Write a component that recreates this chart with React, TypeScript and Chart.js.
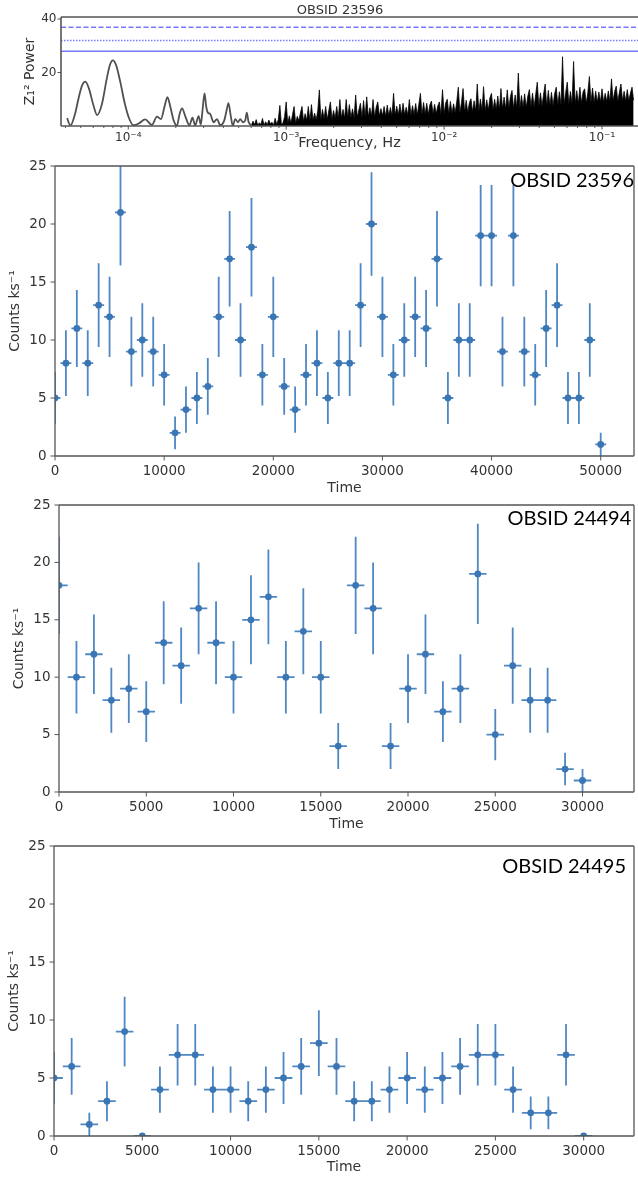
import React, { useEffect, useRef } from "react";
import { Chart, registerables } from "chart.js";
Chart.register(...registerables);

// ---------------- data: Z^2_1 periodogram (OBSID 23596) ----------------
const LOWF_FREQ = [4.1e-5, 4.3e-5, 4.6e-5, 4.85e-5, 5.1e-5, 5.35e-5, 5.65e-5, 6.0e-5, 6.35e-5, 6.8e-5,
  7.3e-5, 7.65e-5, 8.0e-5, 8.4e-5, 8.9e-5, 9.5e-5, 1.01e-4, 1.08e-4, 1.17e-4, 1.28e-4,
  1.41e-4, 1.52e-4, 1.61e-4, 1.7e-4, 1.77e-4, 1.85e-4, 1.94e-4, 2.03e-4, 2.12e-4, 2.19e-4,
  2.3e-4, 2.44e-4, 2.55e-4, 2.65e-4, 2.79e-4, 2.88e-4, 2.96e-4, 3.04e-4, 3.12e-4, 3.19e-4,
  3.3e-4, 3.47e-4, 3.65e-4, 3.82e-4, 4.05e-4, 4.2e-4, 4.31e-4, 4.45e-4, 4.59e-4, 4.76e-4,
  4.95e-4, 5.12e-4, 5.32e-4, 5.5e-4, 5.63e-4, 5.78e-4, 6.03e-4];
const LOWF_POWER = [2.9, 0.2, 4.5, 10.5, 15.2, 16.6, 13.8, 8.0, 4.1, 8.0,
  17.5, 22.8, 24.5, 22.5, 16.5, 8.5, 3.0, 0.3, 1.0, 2.5,
  0.4, 3.5, 2.6, 7.5, 10.8, 7.0, 2.0, 0.1, 4.8, 6.6,
  3.5, 0.3, 3.1, 0.3, 3.7, 0.6, 6.5, 12.2, 7.0, 5.0,
  4.5, 1.4, 2.6, 0.3, 2.0, 6.0, 8.5, 4.0, 0.1, 2.6,
  1.4, 2.6, 1.4, 2.0, 5.0, 1.5, 0.3];

const DENSE_LOG_FREQ = [
  -3.22, -3.21, -3.20, -3.19, -3.18, -3.17, -3.16, -3.15, -3.14, -3.13,
  -3.12, -3.11, -3.10, -3.09, -3.08, -3.07, -3.06, -3.05, -3.04, -3.03,
  -3.02, -3.01, -3.00, -2.99, -2.98, -2.97, -2.96, -2.95, -2.94, -2.93,
  -2.92, -2.91, -2.90, -2.89, -2.88, -2.87, -2.86, -2.85, -2.84, -2.83,
  -2.82, -2.81, -2.80, -2.79, -2.78, -2.77, -2.76, -2.75, -2.74, -2.73,
  -2.72, -2.71, -2.70, -2.69, -2.68, -2.67, -2.66, -2.65, -2.64, -2.63,
  -2.62, -2.61, -2.60, -2.59, -2.58, -2.57, -2.56, -2.55, -2.54, -2.53,
  -2.52, -2.51, -2.50, -2.49, -2.48, -2.47, -2.46, -2.45, -2.44, -2.43,
  -2.42, -2.41, -2.40, -2.39, -2.38, -2.37, -2.36, -2.35, -2.34, -2.33,
  -2.32, -2.31, -2.30, -2.29, -2.28, -2.27, -2.26, -2.25, -2.24, -2.23,
  -2.22, -2.21, -2.20, -2.19, -2.18, -2.17, -2.16, -2.15, -2.14, -2.13,
  -2.12, -2.11, -2.10, -2.09, -2.08, -2.07, -2.06, -2.05, -2.04, -2.03,
  -2.02, -2.01, -2.00, -1.99, -1.98, -1.97, -1.96, -1.95, -1.94, -1.93,
  -1.92, -1.91, -1.90, -1.89, -1.88, -1.87, -1.86, -1.85, -1.84, -1.83,
  -1.82, -1.81, -1.80, -1.79, -1.78, -1.77, -1.76, -1.75, -1.74, -1.73,
  -1.72, -1.71, -1.70, -1.69, -1.68, -1.67, -1.66, -1.65, -1.64, -1.63,
  -1.62, -1.61, -1.60, -1.59, -1.58, -1.57, -1.56, -1.55, -1.54, -1.53,
  -1.52, -1.51, -1.50, -1.49, -1.48, -1.47, -1.46, -1.45, -1.44, -1.43,
  -1.42, -1.41, -1.40, -1.39, -1.38, -1.37, -1.36, -1.35, -1.34, -1.33,
  -1.32, -1.31, -1.30, -1.29, -1.28, -1.27, -1.26, -1.25, -1.24, -1.23,
  -1.22, -1.21, -1.20, -1.19, -1.18, -1.17, -1.16, -1.15, -1.14, -1.13,
  -1.12, -1.11, -1.10, -1.09, -1.08, -1.07, -1.06, -1.05, -1.04, -1.03,
  -1.02, -1.01, -1.00, -0.99, -0.98, -0.97, -0.96, -0.95, -0.94, -0.93,
  -0.92, -0.91, -0.90, -0.89, -0.88, -0.87, -0.86, -0.85, -0.84, -0.83,
  -0.82, -0.81, -0.80];
const DENSE_POWER = [
  0.3, 1.8, 0.5, 2.4, 0.2, 1.2, 0.6, 2.8, 0.3, 1.6,
  0.4, 2.2, 0.8, 1.4, 0.3, 2.9, 0.6, 2.4, 7.7, 0.5,
  1.2, 3.5, 9.0, 0.8, 3.8, 1.0, 4.2, 7.3, 0.9, 3.6,
  2.0, 4.8, 7.3, 1.8, 4.6, 2.1, 7.3, 1.9, 8.0, 2.2,
  4.8, 2.3, 5.6, 13.5, 2.4, 6.2, 2.6, 7.3, 2.4, 5.8,
  9.0, 2.5, 5.8, 2.9, 7.3, 2.8, 9.9, 3.0, 6.2, 2.9,
  9.9, 3.0, 8.0, 3.2, 6.4, 3.0, 11.6, 3.3, 5.9, 8.5,
  3.2, 9.5, 3.5, 10.9, 3.4, 6.8, 3.6, 9.9, 3.4, 7.0,
  9.0, 3.7, 6.5, 3.8, 7.3, 3.6, 7.8, 3.9, 6.9, 3.8,
  12.2, 3.9, 7.4, 4.1, 8.2, 3.9, 8.5, 4.2, 7.0, 4.0,
  9.9, 4.1, 7.6, 4.3, 8.4, 4.1, 8.0, 12.2, 4.3, 8.8,
  4.4, 8.5, 4.3, 7.9, 9.3, 4.5, 8.1, 4.6, 7.5, 9.0,
  4.3, 13.6, 4.6, 8.6, 10.0, 4.5, 9.2, 4.8, 8.3, 5.0,
  9.0, 14.5, 4.9, 8.8, 14.0, 5.2, 9.6, 5.0, 8.7, 10.2,
  5.3, 9.4, 5.6, 15.7, 5.4, 10.1, 5.8, 14.7, 5.5, 9.8,
  5.9, 10.5, 12.2, 6.0, 10.0, 6.2, 11.2, 6.1, 14.0, 6.4,
  10.8, 6.3, 13.5, 6.6, 11.0, 13.3, 6.5, 11.6, 6.8, 19.8,
  6.7, 11.4, 7.0, 12.0, 6.9, 11.1, 13.6, 7.2, 12.3, 7.1,
  11.8, 16.4, 7.3, 12.4, 7.5, 11.9, 15.7, 7.4, 13.3, 7.7,
  12.6, 7.6, 12.1, 14.5, 7.9, 12.8, 7.8, 25.9, 8.0, 12.5,
  16.4, 8.1, 12.9, 8.3, 24.1, 8.2, 13.2, 8.4, 14.5, 8.6,
  12.8, 13.9, 8.5, 12.4, 18.5, 8.8, 14.2, 8.7, 13.0, 8.9,
  12.7, 9.0, 13.9, 8.8, 12.2, 9.2, 13.1, 9.1, 17.6, 9.3,
  12.9, 14.9, 9.2, 12.6, 15.7, 9.4, 13.0, 9.3, 13.6, 9.5,
  12.3, 14.5, 9.6];

const SIG_LEVELS = [36.9, 32.0, 27.9];
const FREQ_MIN = 3.75e-5;
const FREQ_MAX = 0.169;
const POWER_MAX = 40.75;
const FREQ_TICKS = [4e-5, 5e-5, 6e-5, 7e-5, 8e-5, 9e-5,
  1e-4, 2e-4, 3e-4, 4e-4, 5e-4, 6e-4, 7e-4, 8e-4, 9e-4,
  1e-3, 2e-3, 3e-3, 4e-3, 5e-3, 6e-3, 7e-3, 8e-3, 9e-3,
  1e-2, 2e-2, 3e-2, 4e-2, 5e-2, 6e-2, 7e-2, 8e-2, 9e-2, 1e-1];
const FREQ_MAJOR = [1e-4, 1e-3, 1e-2, 1e-1];
const FREQ_MAJOR_LABELS = ["10\u207B\u2074", "10\u207B\u00B3", "10\u207B\u00B2", "10\u207B\u00B9"];
const POWER_TICKS = [20, 40];

// ---------------- data: light curves ----------------
const TIME_23596 = [0, 1000, 2000, 3000, 4000, 5000, 6000, 7000, 8000, 9000,
  10000, 11000, 12000, 13000, 14000, 15000, 16000, 17000, 18000, 19000,
  20000, 21000, 22000, 23000, 24000, 25000, 26000, 27000, 28000, 29000,
  30000, 31000, 32000, 33000, 34000, 35000, 36000, 37000, 38000, 39000,
  40000, 41000, 42000, 43000, 44000, 45000, 46000, 47000, 48000, 49000, 50000];
const RATE_23596 = [5, 8, 11, 8, 13, 12, 21, 9, 10, 9,
  7, 2, 4, 5, 6, 12, 17, 10, 18, 7,
  12, 6, 4, 7, 8, 5, 8, 8, 13, 20,
  12, 7, 10, 12, 11, 17, 5, 10, 10, 19,
  19, 9, 19, 9, 7, 11, 13, 5, 5, 10, 1];
const ERR_23596 = [2.24, 2.83, 3.32, 2.83, 3.61, 3.46, 4.58, 3.0, 3.16, 3.0,
  2.65, 1.41, 2.0, 2.24, 2.45, 3.46, 4.12, 3.16, 4.24, 2.65,
  3.46, 2.45, 2.0, 2.65, 2.83, 2.24, 2.83, 2.83, 3.61, 4.47,
  3.46, 2.65, 3.16, 3.46, 3.32, 4.12, 2.24, 3.16, 3.16, 4.36,
  4.36, 3.0, 4.36, 3.0, 2.65, 3.32, 3.61, 2.24, 2.24, 3.16, 1.0];

const TIME_24494 = [0, 1000, 2000, 3000, 4000, 5000, 6000, 7000, 8000, 9000,
  10000, 11000, 12000, 13000, 14000, 15000, 16000, 17000, 18000, 19000,
  20000, 21000, 22000, 23000, 24000, 25000, 26000, 27000, 28000, 29000, 30000];
const RATE_24494 = [18, 10, 12, 8, 9, 7, 13, 11, 16, 13,
  10, 15, 17, 10, 14, 10, 4, 18, 16, 4,
  9, 12, 7, 9, 19, 5, 11, 8, 8, 2, 1];
const ERR_24494 = [4.24, 3.16, 3.46, 2.83, 3.0, 2.65, 3.61, 3.32, 4.0, 3.61,
  3.16, 3.87, 4.12, 3.16, 3.74, 3.16, 2.0, 4.24, 4.0, 2.0,
  3.0, 3.46, 2.65, 3.0, 4.36, 2.24, 3.32, 2.83, 2.83, 1.41, 1.0];

const TIME_24495 = [0, 1000, 2000, 3000, 4000, 5000, 6000, 7000, 8000, 9000,
  10000, 11000, 12000, 13000, 14000, 15000, 16000, 17000, 18000, 19000,
  20000, 21000, 22000, 23000, 24000, 25000, 26000, 27000, 28000, 29000, 30000];
const RATE_24495 = [5, 6, 1, 3, 9, 0, 4, 7, 7, 4,
  4, 3, 4, 5, 6, 8, 6, 3, 3, 4,
  5, 4, 5, 6, 7, 7, 4, 2, 2, 7, 0];
const ERR_24495 = [2.24, 2.45, 1.0, 1.73, 3.0, 0, 2.0, 2.65, 2.65, 2.0,
  2.0, 1.73, 2.0, 2.24, 2.45, 2.83, 2.45, 1.73, 1.73, 2.0,
  2.24, 2.0, 2.24, 2.45, 2.65, 2.65, 2.0, 1.41, 1.41, 2.65, 0];

const BIN_HALF_WIDTH = 500;
const RATE_TICKS = [0, 5, 10, 15, 20, 25];
const TIME_TICKS_LONG = [0, 10000, 20000, 30000, 40000, 50000];
const TIME_TICKS_SHORT = [0, 5000, 10000, 15000, 20000, 25000, 30000];

// ---------------- styling ----------------
const FONT = '"DejaVu Sans", sans-serif';
const LABEL_FONT = 'Lato, "Open Sans", sans-serif';
const TEXT = "#333333";
const SPINE = "#555555";
const MARKER = "#3a76b4";
const ERRBAR = "#4f87c2";
const SIG_COLOR = "rgba(85,85,255,0.8)";

function makeFrame(cfg: any) {
  return {
    id: "frame",
    afterDraw(chart: any) {
      const { ctx, chartArea: a } = chart;
      ctx.save();
      ctx.strokeStyle = SPINE;
      ctx.lineWidth = cfg.width;
      ctx.beginPath();
      if (cfg.sides.includes("l")) { ctx.moveTo(a.left, a.top); ctx.lineTo(a.left, a.bottom); }
      if (cfg.sides.includes("t")) { ctx.moveTo(a.left, a.top); ctx.lineTo(a.right, a.top); }
      if (cfg.sides.includes("r")) { ctx.moveTo(a.right, a.top); ctx.lineTo(a.right, a.bottom); }
      if (cfg.sides.includes("b")) { ctx.moveTo(a.left, a.bottom); ctx.lineTo(a.right, a.bottom); }
      ctx.stroke();
      ctx.lineWidth = 1;
      ctx.beginPath();
      const xs = chart.scales.x;
      xs.ticks.forEach((t: any) => {
        const p = xs.getPixelForValue(t.value);
        const len = cfg.xMajor && !cfg.xMajor.includes(t.value) ? cfg.minorLen : cfg.majorLen;
        ctx.moveTo(p, a.bottom);
        ctx.lineTo(p, a.bottom + len);
      });
      const ys = chart.scales.y;
      ys.ticks.forEach((t: any) => {
        const p = ys.getPixelForValue(t.value);
        ctx.moveTo(a.left, p);
        ctx.lineTo(a.left - cfg.majorLen, p);
      });
      ctx.stroke();
      ctx.restore();
    },
  };
}

function makeText(items: any[]) {
  return {
    id: "texts",
    afterDraw(chart: any) {
      const ctx = chart.ctx;
      ctx.save();
      items.forEach((it) => {
        ctx.font = it.font;
        ctx.fillStyle = it.color;
        ctx.textAlign = it.align;
        ctx.textBaseline = "alphabetic";
        ctx.fillText(it.text, it.x, it.y);
      });
      ctx.restore();
    },
  };
}

function makeErrorBars(cfg: any) {
  return {
    id: "errorbars",
    beforeDatasetsDraw(chart: any) {
      const { ctx, chartArea: a } = chart;
      const xs = chart.scales.x;
      const ys = chart.scales.y;
      ctx.save();
      ctx.beginPath();
      ctx.rect(a.left, a.top, a.right - a.left, a.bottom - a.top);
      ctx.clip();
      ctx.strokeStyle = ERRBAR;
      ctx.lineWidth = 1.8;
      ctx.beginPath();
      cfg.time.forEach((t: number, i: number) => {
        const v = cfg.rate[i];
        const e = cfg.err[i];
        const px = xs.getPixelForValue(t);
        const py = ys.getPixelForValue(v);
        if (e > 0) {
          ctx.moveTo(px, ys.getPixelForValue(v - e));
          ctx.lineTo(px, ys.getPixelForValue(v + e));
        }
        ctx.moveTo(xs.getPixelForValue(t - cfg.half), py);
        ctx.lineTo(xs.getPixelForValue(t + cfg.half), py);
      });
      ctx.stroke();
      ctx.restore();
    },
  };
}

function makePeriodogram(canvas: HTMLCanvasElement) {
  const lowData = LOWF_FREQ.map((f, i) => ({ x: f, y: LOWF_POWER[i] }));
  const denseData = DENSE_LOG_FREQ.map((lf, i) => ({ x: Math.pow(10, lf), y: DENSE_POWER[i] }));
  const dashes = [[5, 2.5], [1.5, 1.5], []];
  const sigSets = SIG_LEVELS.map((lvl, i) => ({
    data: [{ x: FREQ_MIN, y: lvl }, { x: FREQ_MAX, y: lvl }],
    borderColor: SIG_COLOR,
    borderWidth: 1.5,
    borderDash: dashes[i],
    pointRadius: 0,
    fill: false,
  }));
  return new Chart(canvas, {
    type: "line",
    data: {
      datasets: [
        { data: lowData, borderColor: "#505050", borderWidth: 1.8, pointRadius: 0, cubicInterpolationMode: "monotone", fill: false },
        { data: denseData, borderColor: "rgba(0,0,0,0.85)", borderWidth: 0.9, pointRadius: 0, fill: "origin", backgroundColor: "#000", tension: 0 },
        ...sigSets,
      ] as any,
    },
    options: {
      animation: false,
      responsive: false,
      events: [],
      layout: { padding: { left: 0, right: 0, top: 17, bottom: 0 } },
      plugins: { legend: { display: false }, tooltip: { enabled: false } },
      scales: {
        x: {
          type: "logarithmic",
          min: FREQ_MIN,
          max: FREQ_MAX,
          afterBuildTicks: (s: any) => { s.ticks = FREQ_TICKS.map((v) => ({ value: v, major: FREQ_MAJOR.includes(v) })); },
          afterFit: (s: any) => { s.height = 29; },
          ticks: {
            autoSkip: false, maxRotation: 0, minRotation: 0, padding: 1,
            font: { family: FONT, size: 12 }, color: TEXT,
            callback: (v: any) => { const k = FREQ_MAJOR.indexOf(v); return k >= 0 ? FREQ_MAJOR_LABELS[k] : ""; },
          },
          grid: { drawOnChartArea: false, drawTicks: true, tickLength: 3.5, color: "rgba(0,0,0,0)" },
          border: { display: false },
          title: { display: true, text: "Frequency, Hz", font: { family: FONT, size: 14.5 }, color: TEXT, padding: { top: 0, bottom: 2.8 } },
        },
        y: {
          min: 0,
          max: POWER_MAX,
          afterBuildTicks: (s: any) => { s.ticks = POWER_TICKS.map((v) => ({ value: v })); },
          afterFit: (s: any) => { s.width = 61; },
          ticks: { padding: 1, font: { family: FONT, size: 12 }, color: TEXT, callback: (v: any) => String(v) },
          grid: { drawOnChartArea: false, drawTicks: true, tickLength: 3.5, color: "rgba(0,0,0,0)" },
          border: { display: false },
          title: { display: true, text: "Z\u2081\u00B2 Power", font: { family: FONT, size: 14 }, color: TEXT, padding: { top: 22, bottom: 0 } },
        },
      },
    } as any,
    plugins: [
      makeFrame({ sides: "ltb", width: 1.6, majorLen: 3.5, minorLen: 2, xMajor: FREQ_MAJOR }),
      makeText([{ text: "OBSID 23596", x: 340, y: 14, font: `13px ${FONT}`, color: TEXT, align: "center" }]),
    ],
  });
}

function makeLightCurve(canvas: HTMLCanvasElement, cfg: any) {
  const pts = cfg.time.map((t: number, i: number) => ({ x: t, y: cfg.rate[i] }));
  return new Chart(canvas, {
    type: "scatter",
    data: {
      datasets: [{
        data: pts, pointRadius: 3.4, pointBackgroundColor: MARKER, pointBorderColor: MARKER,
        pointBorderWidth: 0, showLine: false, clip: 0,
      }] as any,
    },
    options: {
      animation: false,
      responsive: false,
      events: [],
      layout: { padding: { left: 0, right: cfg.padRight, top: cfg.padTop, bottom: 0 } },
      plugins: { legend: { display: false }, tooltip: { enabled: false } },
      scales: {
        x: {
          type: "linear",
          min: 0,
          max: cfg.xmax,
          afterBuildTicks: (s: any) => { s.ticks = cfg.xticks.map((v: number) => ({ value: v })); },
          afterFit: (s: any) => { s.height = cfg.xAxisH; },
          ticks: { autoSkip: false, maxRotation: 0, minRotation: 0, padding: 3, font: { family: FONT, size: 13.5 }, color: TEXT, callback: (v: any) => String(v) },
          grid: { drawOnChartArea: false, drawTicks: true, tickLength: 4.5, color: "rgba(0,0,0,0)" },
          border: { display: false },
          title: { display: true, text: "Time", font: { family: FONT, size: 14 }, color: TEXT, padding: { top: 0, bottom: 3.6 } },
        },
        y: {
          min: 0,
          max: 25,
          afterBuildTicks: (s: any) => { s.ticks = RATE_TICKS.map((v) => ({ value: v })); },
          afterFit: (s: any) => { s.width = cfg.yAxisW; },
          ticks: { padding: 4, font: { family: FONT, size: 13.5 }, color: TEXT, callback: (v: any) => String(v) },
          grid: { drawOnChartArea: false, drawTicks: true, tickLength: 4.5, color: "rgba(0,0,0,0)" },
          border: { display: false },
          title: { display: true, text: "Counts ks\u207B\u00B9", font: { family: FONT, size: 14 }, color: TEXT, padding: { top: cfg.yTitlePad, bottom: 0 } },
        },
      },
    } as any,
    plugins: [
      makeErrorBars({ time: cfg.time, rate: cfg.rate, err: cfg.err, half: BIN_HALF_WIDTH }),
      makeFrame({ sides: "ltrb", width: 1.3, majorLen: 4.5, minorLen: 4.5 }),
      makeText([{ text: cfg.label, x: cfg.labelX, y: cfg.labelY, font: `20px ${LABEL_FONT}`, color: "#000", align: "right" }]),
    ],
  });
}

const LC_CONFIGS = [
  { time: TIME_23596, rate: RATE_23596, err: ERR_23596, xticks: TIME_TICKS_LONG, xmax: 53050, label: "OBSID 23596",
    top: 140, height: 360, padTop: 26, padRight: 2, xAxisH: 44, yAxisW: 55, yTitlePad: 7, labelX: 634, labelY: 46.7 },
  { time: TIME_24494, rate: RATE_24494, err: ERR_24494, xticks: TIME_TICKS_SHORT, xmax: 32950, label: "OBSID 24494",
    top: 480, height: 356, padTop: 25, padRight: 2, xAxisH: 44, yAxisW: 59, yTitlePad: 10.6, labelX: 631.3, labelY: 45 },
  { time: TIME_24495, rate: RATE_24495, err: ERR_24495, xticks: TIME_TICKS_SHORT, xmax: 32850, label: "OBSID 24495",
    top: 810, height: 369, padTop: 36, padRight: 2, xAxisH: 43, yAxisW: 54, yTitlePad: 6.1, labelX: 626, labelY: 63.3 },
];

export default function App() {
  const pRef = useRef<HTMLCanvasElement>(null);
  const r1 = useRef<HTMLCanvasElement>(null);
  const r2 = useRef<HTMLCanvasElement>(null);
  const r3 = useRef<HTMLCanvasElement>(null);
  const refs = [r1, r2, r3];

  useEffect(() => {
    const charts: Chart[] = [];
    charts.push(makePeriodogram(pRef.current!));
    LC_CONFIGS.forEach((cfg, i) => charts.push(makeLightCurve(refs[i].current!, cfg)));
    return () => charts.forEach((c) => c.destroy());
  }, []);

  return (
    <div style={{ position: "absolute", left: 0, top: 0, width: 638, height: 1179, background: "#fff", overflow: "hidden" }}>
      <canvas ref={pRef} width={638} height={155} style={{ position: "absolute", left: 0, top: 0 }} />
      {LC_CONFIGS.map((cfg, i) => (
        <canvas key={i} ref={refs[i]} width={638} height={cfg.height} style={{ position: "absolute", left: 0, top: cfg.top }} />
      ))}
    </div>
  );
}
